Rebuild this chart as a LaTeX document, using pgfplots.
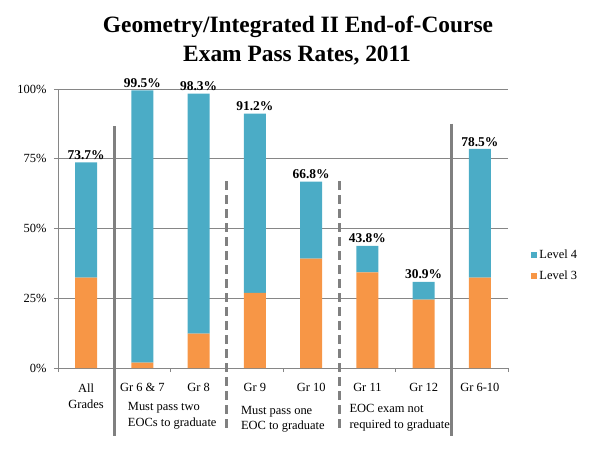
\documentclass[border=0pt]{standalone}
\usepackage{pgfplots}
\pgfplotsset{compat=1.18}
\usepackage{pgfplotstable}
\usepackage{fontspec}
\setmainfont{Liberation Serif}

\definecolor{levelfour}{HTML}{4BACC6}
\definecolor{levelthree}{HTML}{F79646}
\definecolor{gridgray}{HTML}{868686}
\definecolor{sepgray}{HTML}{808080}

\tikzset{
  pct/.style={anchor=south, inner sep=2.5bp, font=\fontsize{13.5}{16}\selectfont\bfseries},
  note/.style={anchor=north west, align=left, inner sep=0pt, font=\fontsize{12.5}{16}\selectfont},
  sep/.style={sepgray, line width=3bp},
  dsep/.style={sepgray, line width=3bp, dash pattern=on 9bp off 5bp},
}

% x: category position, lthree/lfour: stacked shares, total: pass rate
\pgfplotstableread{
x lthree lfour total
0 32.4 41.3 73.7
1 1.9  97.6 99.5
2 12.3 86.0 98.3
3 26.9 64.3 91.2
4 39.2 27.6 66.8
5 34.3 9.5  43.8
6 24.5 6.4  30.9
7 32.4 46.1 78.5
}\passrates

\begin{document}
\begin{tikzpicture}
\path[use as bounding box] (-58bp,-96bp) rectangle (536bp,368bp);

\node[anchor=base, font=\fontsize{23.5}{28}\selectfont\bfseries] at (240bp,335bp)
  {Geometry/Integrated II End-of-Course};
\node[anchor=base, font=\fontsize{23.5}{28}\selectfont\bfseries] at (239bp,306bp)
  {Exam Pass Rates, 2011};

\begin{axis}[
  at={(0,0)}, anchor=south west,
  scale only axis, width=450bp, height=279bp,
  ybar stacked, bar width=0.39,
  xmin=-0.5, xmax=7.5, ymin=0, ymax=100,
  axis lines*=left,
  axis line style={gridgray},
  clip=false,
  xtick={-0.5,0.5,...,7.5},
  x tick label as interval,
  xticklabels={{All\\Grades},Gr 6 \& 7,Gr 8,Gr 9,Gr 10,Gr 11,Gr 12,Gr 6-10},
  xticklabel style={align=center, font=\fontsize{12.5}{16.5}\selectfont, yshift=-8bp},
  ytick={0,25,50,75,100},
  yticklabels={0\%,25\%,50\%,75\%,100\%},
  yticklabel style={font=\fontsize{12.5}{15}\selectfont, xshift=-4bp},
  tick align=outside, major tick length=4bp,
  tick style={gridgray, line width=0.8bp},
  ymajorgrids, grid style={gridgray, line width=0.8bp},
  legend style={draw=none, fill=none, at={(1.045,0.367)}, anchor=west,
    font=\fontsize{12.5}{15}\selectfont, row sep=7bp},
  legend cell align=left,
  legend image code/.code={\fill[#1, draw=none] (0bp,-3bp) rectangle (6bp,3bp);},
]
\addplot[fill=levelthree, draw=none, forget plot] table[x=x, y=lthree] {\passrates};
\addplot[fill=levelfour, draw=none, forget plot] table[x=x, y=lfour] {\passrates};
\addlegendimage{fill=levelfour}
\addlegendentry{Level 4}
\addlegendimage{fill=levelthree}
\addlegendentry{Level 3}

% pass-rate labels above each stack
\node[pct] at (axis cs:0,73.7) {73.7\%};
\node[pct] at (axis cs:1,99.5) {99.5\%};
\node[pct] at (axis cs:2,98.3) {98.3\%};
\node[pct] at (axis cs:3,91.2) {91.2\%};
\node[pct] at (axis cs:4,66.8) {66.8\%};
\node[pct] at (axis cs:5,43.8) {43.8\%};
\node[pct] at (axis cs:6,30.9) {30.9\%};
\node[pct] at (axis cs:7,78.5) {78.5\%};

% group separators
\draw[sep] (axis cs:0.5,86.7) -- (axis cs:0.5,-24.3);
\draw[sep] (axis cs:6.5,87.6) -- (axis cs:6.5,-24.3);
\draw[dsep] (axis cs:2.5,67) -- (axis cs:2.5,-22.5);
\draw[dsep] (axis cs:4.5,67) -- (axis cs:4.5,-22.5);

% group notes
\node[note] at (axis cs:0.74,-12.1) {Must pass two\\EOCs to graduate};
\node[note] at (axis cs:2.75,-13.5) {Must pass one\\EOC to graduate};
\node[note] at (axis cs:4.68,-12.9) {EOC exam not\\required to graduate};
\end{axis}
\end{tikzpicture}
\end{document}
